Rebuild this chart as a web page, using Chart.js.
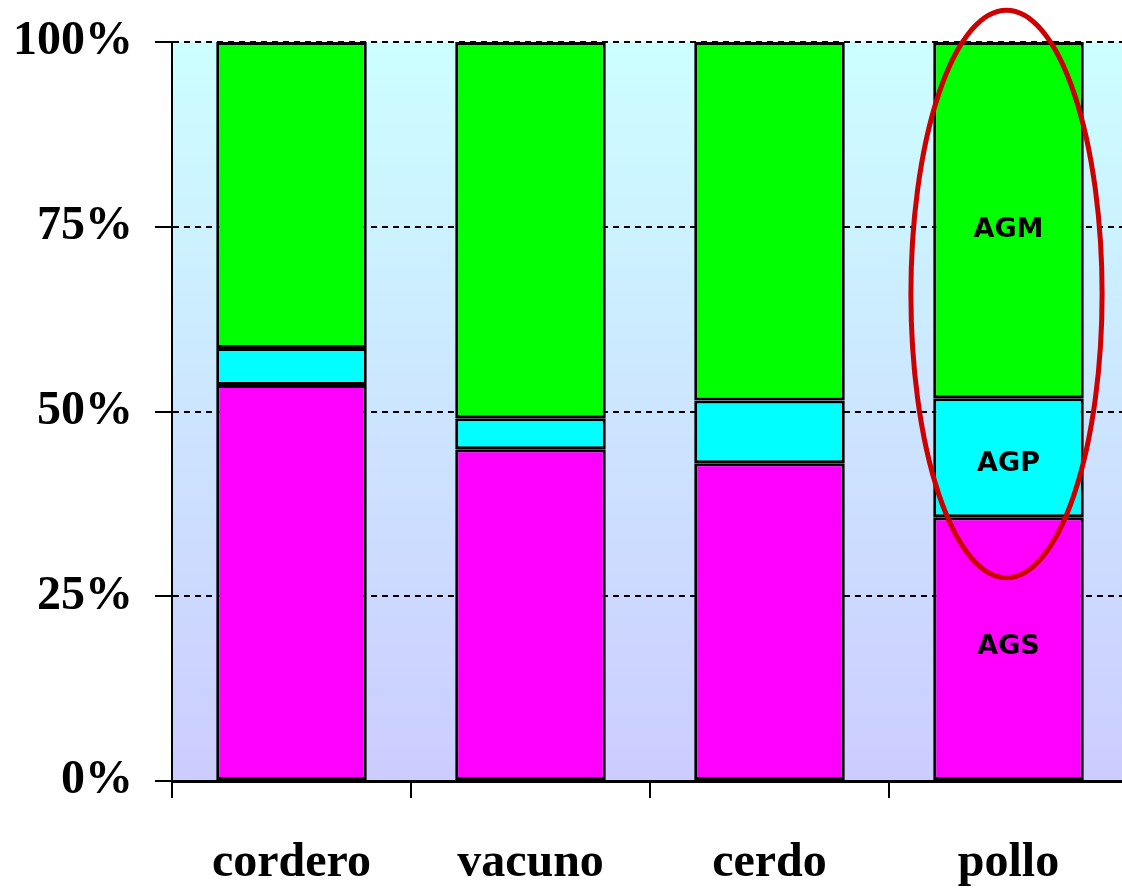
<!DOCTYPE html>
<html>
<head>
<meta charset="utf-8">
<script src="https://cdn.jsdelivr.net/npm/chart.js@4"></script>
<style>
  html, body { margin: 0; padding: 0; background: #fff; overflow: hidden; }
  #wrap { width: 1128px; height: 890px; }
</style>
</head>
<body>
<div id="wrap"><canvas id="fatChart"></canvas></div>
<script>
// Data (% of total fat)
const categories = ['cordero', 'vacuno', 'cerdo', 'pollo'];
const agsValues = [53.6, 44.9, 43.0, 35.7];  // saturados
const agpValues = [5.0, 4.2, 8.5, 16.1];     // poliinsaturados
const agmValues = [41.4, 50.9, 48.5, 48.2];  // monoinsaturados
const yTicks = [0, 25, 50, 75, 100];

// the highlighted bar: where its segment names sit, and its ellipse (axis units)
const highlightIndex = 3;
const segmentLabelAt = [18.5, 43.3, 75];
const ellipseCenterY = 65.9;
const ellipseHalfHeight = 38.4;
const ellipseHalfWidth = 0.40;

const serifBold = { family: '"Liberation Serif", "Times New Roman", serif', size: 48, weight: 'bold' };

// Gradient behind the bars
const backgroundPlugin = {
    id: 'plotBackground',
    beforeDraw(chart) {
        const { ctx, chartArea } = chart;
        const g = ctx.createLinearGradient(0, chartArea.top, 0, chartArea.bottom);
        g.addColorStop(0, '#ccffff');
        g.addColorStop(1, '#ccccff');
        ctx.save();
        ctx.fillStyle = g;
        ctx.fillRect(chartArea.left, chartArea.top, chartArea.right - chartArea.left, chartArea.bottom - chartArea.top);
        ctx.restore();
    }
};

// Segment names on the highlighted bar + red ellipse
const highlightPlugin = {
    id: 'highlight',
    afterDraw(chart) {
        const { ctx } = chart;
        const x = chart.scales.x;
        const y = chart.scales.y;
        ctx.save();
        ctx.font = 'bold 27px "DejaVu Sans", Verdana, sans-serif';
        ctx.fillStyle = '#000';
        ctx.textAlign = 'center';
        ctx.textBaseline = 'middle';
        chart.data.datasets.forEach((ds, i) => {
            const bar = chart.getDatasetMeta(i).data[highlightIndex];
            ctx.fillText(ds.label, bar.x, y.getPixelForValue(segmentLabelAt[i]) + 3);
        });

        const cx = x.getPixelForValue(highlightIndex) - 2;
        const cy = y.getPixelForValue(ellipseCenterY);
        const ry = y.getPixelForValue(ellipseCenterY - ellipseHalfHeight) - cy;
        const rx = x.getPixelForValue(highlightIndex + ellipseHalfWidth) - x.getPixelForValue(highlightIndex);
        ctx.beginPath();
        ctx.ellipse(cx, cy, rx, ry, 0, 0, Math.PI * 2);
        ctx.strokeStyle = '#cc0000';
        ctx.lineWidth = 5;
        ctx.stroke();
        ctx.restore();
    }
};

const ctx = document.getElementById('fatChart').getContext('2d');

let fatChart = new Chart(ctx, {
    type: 'bar',
    data: {
        labels: categories,
        datasets: [
            { label: 'AGS', data: agsValues, backgroundColor: '#ff00ff' },
            { label: 'AGP', data: agpValues, backgroundColor: '#00ffff' },
            { label: 'AGM', data: agmValues, backgroundColor: '#00ff00' }
        ].map(d => Object.assign(d, {
            borderColor: '#000',
            borderWidth: 3,
            borderSkipped: false,
            inflateAmount: 0,
            barPercentage: 0.63,
            categoryPercentage: 1
        }))
    },
    options: {
        responsive: true,
        maintainAspectRatio: false,
        animation: false,
        layout: { padding: { top: 42, left: 0, right: 0, bottom: 0 } },
        plugins: {
            legend: { display: false },
            tooltip: { enabled: false }
        },
        scales: {
            x: {
                stacked: true,
                grid: { display: true, offset: true, drawOnChartArea: false, drawTicks: true, tickLength: 17, color: '#000', tickColor: '#000', lineWidth: 2, tickWidth: 2 },
                border: { display: true, color: '#000', width: 3 },
                ticks: { color: '#000', font: serifBold, padding: 37 },
                afterFit(scale) { scale.height = 109; }
            },
            y: {
                stacked: true,
                min: 0,
                max: 100,
                afterBuildTicks(scale) { scale.ticks = yTicks.map(v => ({ value: v })); },
                grid: { color: '#000', lineWidth: 2, tickLength: 17, tickColor: '#000', tickWidth: 2 },
                border: { display: true, color: '#000', width: 2, dash: [6, 5] },
                ticks: {
                    color: '#000',
                    font: serifBold,
                    padding: 22,
                    callback: v => v + '%'
                },
                afterFit(scale) {
                    scale.width = 172;
                    scale.paddingTop = 0;
                    scale.paddingBottom = 0;
                }
            }
        }
    },
    plugins: [backgroundPlugin, highlightPlugin]
});
</script>
</body>
</html>
